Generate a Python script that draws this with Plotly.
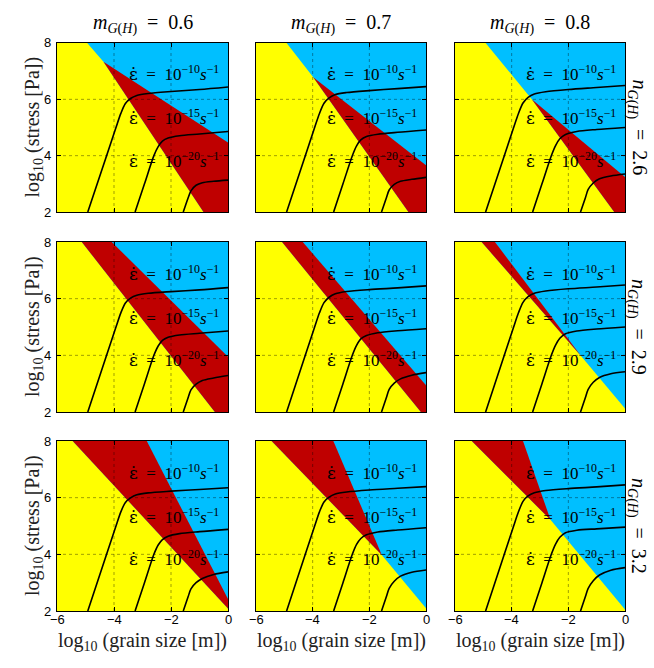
import plotly.graph_objects as go

# ---------------- data ----------------
m_values = [0.6, 0.7, 0.8]          # columns  (m_G(H))
n_values = [2.6, 2.9, 3.2]          # rows     (n_G(H))
rate_exp = [-10, -15, -20]          # strain-rate contours, log10(1/s)
x_range = [-6, 0]
y_range = [2, 8]
x_ticks = [-6, -4, -2, 0]
y_ticks = [2, 4, 6, 8]
x_grid = [-4, -2]
y_grid = [4, 6]

# upper edge of the diffusion (yellow) field, panels in row-major order
yellow_edge_x = [
    [-4.94, -4.37, -0.86], [-4.92, -3.98, -0.62], [-4.92, -3.29, -0.38],
    [-5.13, -0.46], [-5.08, -0.18], [-5.06, -1.53, 0.0],
    [-5.45, 0.0], [-5.45, -1.56, 0.0], [-5.41, -2.63, 0.0],
]
yellow_edge_y = [
    [8, 7.33, 2], [8, 6.78, 2], [8, 6.0, 2],
    [8, 2], [8, 2], [8, 3.95, 2.12],
    [8, 2.09], [8, 3.98, 2.1], [8, 5.22, 2.05],
]
# grain-boundary-sliding (red) field outline
red_x = [
    [-4.37, 0, 0, -0.86], [-3.98, 0, 0, -0.62], [-3.29, 0, 0, -0.38],
    [-5.13, -4.08, 0, 0, -0.46], [-5.08, -4.35, 0, 0, -0.18], [-5.06, -4.59, -1.53],
    [-5.45, -2.85, 0, 0], [-5.45, -3.27, -1.56], [-5.41, -3.6, -2.63],
]
red_y = [
    [7.33, 4.47, 2, 2], [6.78, 3.66, 2, 2], [6.0, 3.24, 2, 2],
    [8, 8, 3.95, 2, 2], [8, 8, 2.94, 2, 2], [8, 8, 3.95],
    [8, 8, 2.42, 2.09], [8, 8, 3.98], [8, 8, 5.22],
]

# strain-rate contours: steep (diffusion) part shared by all panels ...
steep_x = [[-4.92, -4.26, -3.93, -3.76], [-3.26, -2.93, -2.6], [-1.57, -1.40]]
steep_y = [[2, 4, 5, 5.5], [2, 3, 4], [2, 2.5]]
# ... and the bend + flat part, per panel
tail_x = [[-3.6, -3.42, -3.2, -2.8, -2.0, -1.0, 0.0],
          [-2.45, -2.3, -2.1, -1.7, -1.0, 0.0],
          [-1.3, -1.12, -0.9, -0.5, 0.0]]
tail_y = [
    [[5.85, 6.03, 6.14, 6.21, 6.28, 6.35, 6.44], [4.32, 4.52, 4.63, 4.71, 4.77, 4.86], [2.75, 2.95, 3.04, 3.09, 3.13]],
    [[5.86, 6.05, 6.17, 6.24, 6.31, 6.38, 6.45], [4.35, 4.56, 4.68, 4.76, 4.83, 4.91], [2.78, 2.98, 3.09, 3.16, 3.23]],
    [[5.87, 6.07, 6.19, 6.27, 6.35, 6.42, 6.49], [4.36, 4.60, 4.75, 4.86, 4.93, 5.00], [2.80, 3.03, 3.18, 3.28, 3.35]],
    [[5.85, 6.02, 6.12, 6.19, 6.25, 6.31, 6.39], [4.33, 4.53, 4.64, 4.72, 4.78, 4.86], [2.78, 2.98, 3.11, 3.20, 3.29]],
    [[5.86, 6.05, 6.17, 6.25, 6.32, 6.38, 6.45], [4.35, 4.58, 4.70, 4.80, 4.87, 4.94], [2.80, 3.02, 3.17, 3.30, 3.39]],
    [[5.87, 6.07, 6.19, 6.27, 6.35, 6.41, 6.48], [4.36, 4.60, 4.76, 4.86, 4.93, 5.00], [2.80, 3.05, 3.22, 3.35, 3.42]],
    [[5.83, 5.99, 6.10, 6.17, 6.23, 6.29, 6.35], [4.33, 4.52, 4.64, 4.73, 4.80, 4.88], [2.78, 3.00, 3.15, 3.29, 3.38]],
    [[5.85, 6.02, 6.13, 6.20, 6.27, 6.33, 6.39], [4.35, 4.56, 4.69, 4.79, 4.86, 4.94], [2.80, 3.05, 3.23, 3.37, 3.45]],
    [[5.87, 6.06, 6.17, 6.25, 6.32, 6.38, 6.45], [4.36, 4.60, 4.76, 4.85, 4.90, 4.96], [2.80, 3.07, 3.27, 3.44, 3.53]],
]
label_x = -3.55
label_y = [6.92, 5.36, 3.86]

# ---------------- styling ----------------
YELLOW = "#FFFF00"
RED = "#BF0000"
BLUE = "#00BFFF"
SERIF = "Liberation Serif, Times New Roman, serif"
SANS = "Liberation Sans, Arial, sans-serif"
EPSDOT = '<span style="font-family:DejaVu Serif">ε̇</span>'
W, H = 654, 668
col_px = [(57, 228), (256, 426), (455, 625)]
row_px = [(43, 212), (242, 412), (441, 611)]
GRID_LINE = dict(color="rgba(0,0,0,0.55)", width=0.7, dash="dot")
TICKFONT = dict(family=SANS, size=13, color="black")


def tick_text(v):
    return "\u2212%g" % abs(v) if v < 0 else "%g" % v


fig = go.Figure()
layout = dict(
    width=W, height=H, margin=dict(l=0, r=0, t=0, b=0),
    paper_bgcolor="white", plot_bgcolor=BLUE, showlegend=False,
)
annotations = []
shapes = []

for i in range(9):
    r, c = divmod(i, 3)
    s = "" if i == 0 else str(i + 1)
    xa, ya = "x" + s, "y" + s
    # regions
    fig.add_trace(go.Scatter(
        x=[x_range[0], x_range[0]] + yellow_edge_x[i] + [x_range[1]],
        y=[y_range[0], y_range[1]] + yellow_edge_y[i] + [y_range[0]],
        fill="toself", fillcolor=YELLOW, mode="lines", line=dict(width=0, color=YELLOW),
        xaxis=xa, yaxis=ya, hoverinfo="skip"))
    fig.add_trace(go.Scatter(
        x=red_x[i], y=red_y[i],
        fill="toself", fillcolor=RED, mode="lines", line=dict(width=0, color=RED),
        xaxis=xa, yaxis=ya, hoverinfo="skip"))
    # contours
    for k in range(3):
        fig.add_trace(go.Scatter(
            x=steep_x[k] + tail_x[k], y=steep_y[k] + tail_y[i][k],
            mode="lines", line=dict(color="black", width=1.6, shape="spline", smoothing=0.8),
            xaxis=xa, yaxis=ya, hoverinfo="skip"))
        annotations.append(dict(
            x=label_x, y=label_y[k], xref=xa, yref=ya, xanchor="left", yanchor="middle",
            text=EPSDOT + "\u2002=\u200210<sup>\u2212%d</sup><i>s</i><sup>\u22121</sup>" % abs(rate_exp[k]),
            showarrow=False, font=dict(family=SERIF, size=17, color="black")))
    # grid (dotted, drawn above the fields)
    for gx in x_grid:
        shapes.append(dict(type="line", xref=xa, yref=ya + " domain", x0=gx, x1=gx, y0=0, y1=1,
                           layer="above", line=GRID_LINE))
    for gy in y_grid:
        shapes.append(dict(type="line", xref=xa + " domain", yref=ya, x0=0, x1=1, y0=gy, y1=gy,
                           layer="above", line=GRID_LINE))
    # tick labels (placed close to the axes, MATLAB style)
    if r == 2:
        for v in x_ticks:
            annotations.append(dict(x=v, y=1 - 619 / H, xref=xa, yref="paper",
                                    xanchor="center", yanchor="middle", text=tick_text(v),
                                    showarrow=False, font=TICKFONT))
    if c == 0:
        for v in y_ticks:
            annotations.append(dict(x=53 / W, y=v, xref="paper", yref=ya,
                                    xanchor="right", yanchor="middle", text=tick_text(v),
                                    showarrow=False, font=TICKFONT))
    x0p, x1p = col_px[c]
    y0p, y1p = row_px[r]
    layout["xaxis" + s] = dict(
        domain=[x0p / W, x1p / W], range=x_range, anchor=ya,
        tickvals=x_ticks, showticklabels=False, ticks="inside", ticklen=4, tickcolor="black",
        showline=True, linecolor="black", linewidth=1, mirror="ticks",
        showgrid=False, zeroline=False, fixedrange=True)
    layout["yaxis" + s] = dict(
        domain=[1 - y1p / H, 1 - y0p / H], range=y_range, anchor=xa,
        tickvals=y_ticks, showticklabels=False, ticks="inside", ticklen=4, tickcolor="black",
        showline=True, linecolor="black", linewidth=1, mirror="ticks",
        showgrid=False, zeroline=False, fixedrange=True)

# column titles and x-axis titles
for c in range(3):
    cx = (col_px[c][0] + col_px[c][1]) / 2 / W
    annotations.append(dict(
        x=cx, y=1 - 24 / H, xref="paper", yref="paper", xanchor="center", yanchor="middle",
        text="<i>m</i><sub><i>G</i>(<i>H</i>)</sub>\u2002=\u2002%.1f" % m_values[c], showarrow=False,
        font=dict(family=SERIF, size=20, color="black")))
    annotations.append(dict(
        x=cx, y=1 - 641 / H, xref="paper", yref="paper", xanchor="center", yanchor="middle",
        text="log<sub>10</sub> (grain size [m])", showarrow=False,
        font=dict(family=SERIF, size=20, color="#222")))
# row titles and y-axis titles
for r in range(3):
    cy = 1 - (row_px[r][0] + row_px[r][1]) / 2 / H
    annotations.append(dict(
        x=637 / W, y=cy, xref="paper", yref="paper", xanchor="center", yanchor="middle",
        textangle=90, text="<i>n</i><sub><i>G</i>(<i>H</i>)</sub>\u2002=\u2002%.1f" % n_values[r],
        showarrow=False, font=dict(family=SERIF, size=20, color="black")))
    annotations.append(dict(
        x=33 / W, y=cy, xref="paper", yref="paper", xanchor="center", yanchor="middle",
        textangle=-90, text="log<sub>10</sub> (stress [Pa])", showarrow=False,
        font=dict(family=SERIF, size=20, color="#222")))

layout["annotations"] = annotations
layout["shapes"] = shapes
fig.update_layout(**layout)
fig.write_html("out.html", config={"displayModeBar": False, "staticPlot": True},
               post_script="document.body.style.margin='0';document.body.style.overflow='hidden';")
